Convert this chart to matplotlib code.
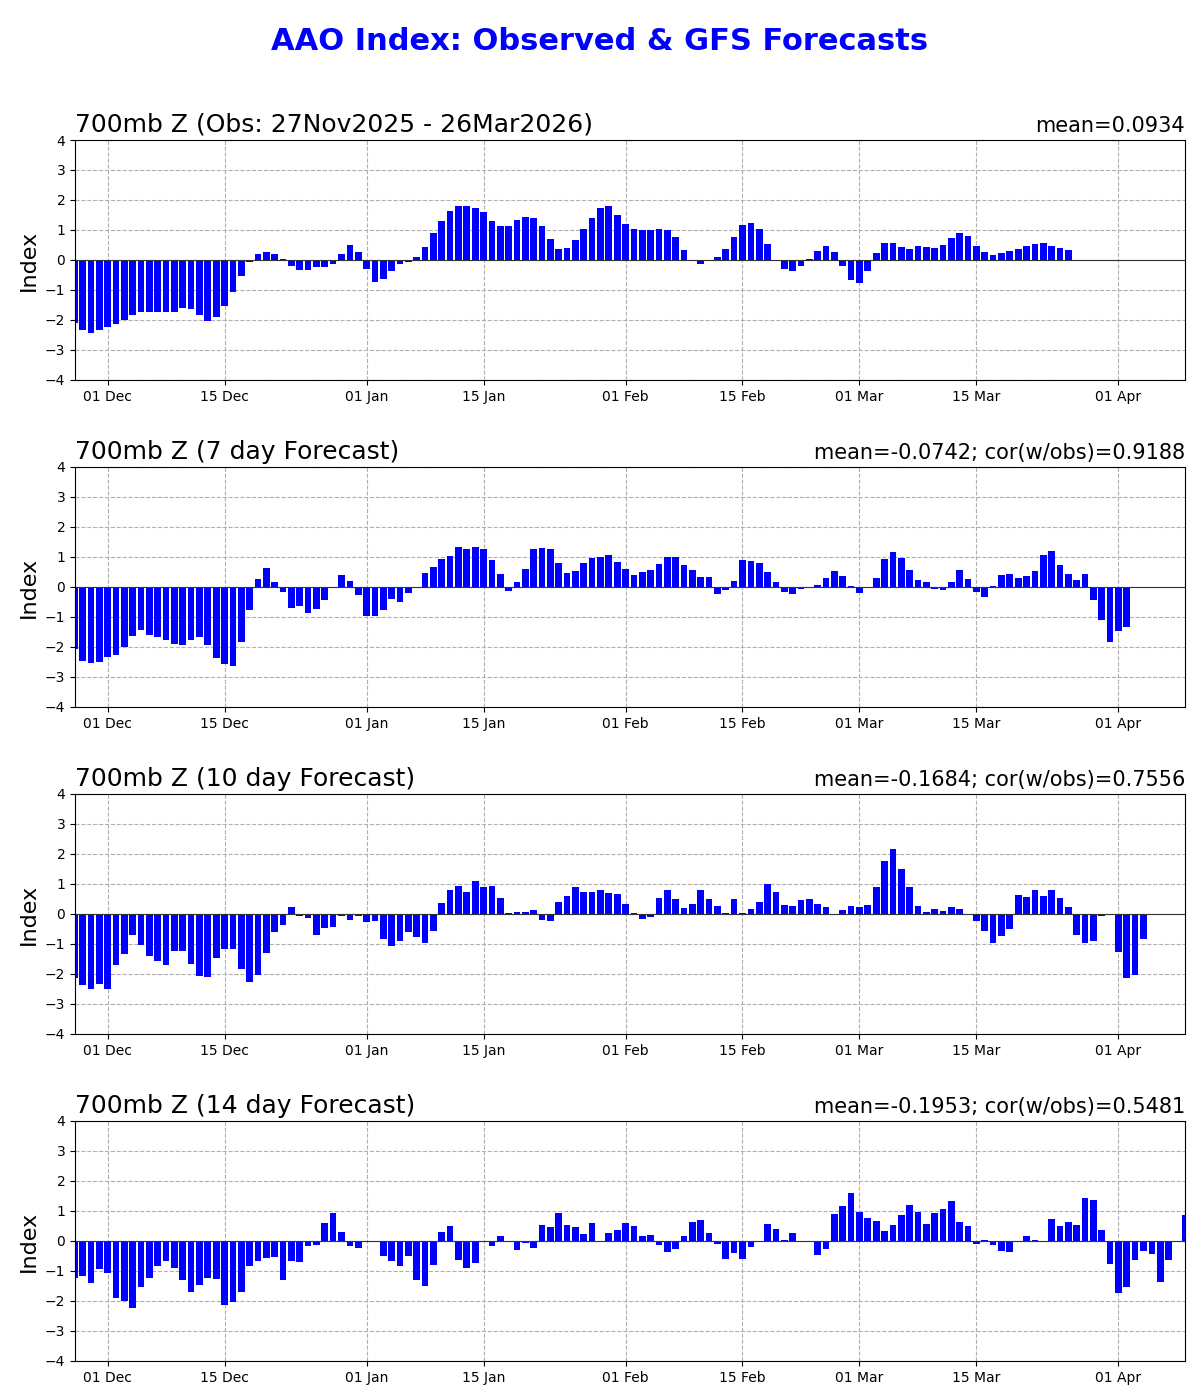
#Importing libraries

import numpy as np
import pandas as pd
import matplotlib
matplotlib.use('Agg')
import matplotlib.pyplot as plt
import matplotlib.dates as mdates

# Daily index values, each series starts on 27 Nov 2025
start_date = '2025-11-27'

obs = [-2.09, -2.33, -2.42, -2.35,
       -2.25, -2.15, -1.99, -1.82, -1.73, -1.73, -1.73, -1.73, -1.73, -1.59, -1.63, -1.82, -2.02, -1.89, -1.53, -1.07,
       -0.54, -0.08, 0.21, 0.27, 0.21, 0.04, -0.21, -0.34, -0.34, -0.24, -0.24, -0.14, 0.21, 0.51, 0.27,
       -0.31, -0.74, -0.64, -0.37, -0.14, -0.08, 0.11, 0.44, 0.90, 1.30, 1.63, 1.79, 1.79, 1.73, 1.59, 1.30,
       1.13, 1.13, 1.33, 1.43, 1.40, 1.13, 0.70, 0.37, 0.41, 0.67, 1.03, 1.40, 1.73, 1.79, 1.49,
       1.20, 1.03, 1.00, 1.00, 1.03, 1.00, 0.77, 0.34, -0.05, -0.12, -0.05, 0.11, 0.37, 0.77, 1.16, 1.23,
       1.03, 0.54, 0.00, -0.31, -0.37, -0.21, 0.04, 0.31, 0.47, 0.27, -0.21, -0.67,
       -0.77, -0.37, 0.24, 0.57, 0.57, 0.44, 0.37, 0.47, 0.44, 0.41, 0.51, 0.74, 0.90, 0.80, 0.47,
       0.27, 0.18, 0.24, 0.31, 0.37, 0.47, 0.54, 0.57, 0.47, 0.41, 0.34]

fc7 = [-2.07, -2.47, -2.54, -2.51,
       -2.34, -2.27, -2.00, -1.64, -1.44, -1.61, -1.67, -1.77, -1.90, -1.93, -1.77, -1.67, -1.93, -2.37, -2.57, -2.63,
       -1.84, -0.78, 0.28, 0.64, 0.17, -0.18, -0.71, -0.64, -0.88, -0.74, -0.44, 0.00, 0.41, 0.21, -0.28,
       -0.98, -0.98, -0.78, -0.41, -0.51, -0.21, 0.00, 0.48, 0.68, 0.94, 1.04, 1.34, 1.28, 1.34, 1.28, 0.91,
       0.44, -0.14, 0.18, 0.61, 1.28, 1.31, 1.28, 0.81, 0.48, 0.54, 0.81, 0.98, 1.01, 1.08, 0.84,
       0.61, 0.41, 0.51, 0.58, 0.78, 1.01, 1.01, 0.74, 0.58, 0.34, 0.34, -0.24, -0.09, 0.21, 0.91, 0.88,
       0.81, 0.51, 0.18, -0.18, -0.24, -0.08, -0.04, 0.08, 0.31, 0.54, 0.38, 0.04,
       -0.21, 0.01, 0.31, 0.94, 1.18, 0.98, 0.58, 0.24, 0.18, -0.08, -0.11, 0.18, 0.58, 0.28, -0.18,
       -0.34, 0.04, 0.41, 0.44, 0.31, 0.38, 0.54, 1.08, 1.21, 0.74, 0.44, 0.24, 0.44, -0.44, -1.11, -1.84,
       -1.48, -1.34]

fc10 = [-2.14, -2.38, -2.51, -2.34,
        -2.51, -1.71, -1.34, -0.71, -1.04, -1.41, -1.58, -1.71, -1.24, -1.24, -1.68, -2.08, -2.11, -1.48, -1.18, -1.18,
        -1.84, -2.28, -2.04, -1.31, -0.61, -0.38, 0.24, -0.08, -0.14, -0.71, -0.48, -0.44, -0.08, -0.21, -0.08,
        -0.28, -0.24, -0.84, -1.08, -0.91, -0.61, -0.78, -0.98, -0.58, 0.38, 0.81, 0.94, 0.74, 1.11, 0.91, 0.94,
        0.54, 0.04, 0.08, 0.08, 0.14, -0.21, -0.24, 0.41, 0.61, 0.91, 0.74, 0.74, 0.81, 0.71, 0.68,
        0.34, 0.04, -0.18, -0.11, 0.54, 0.81, 0.51, 0.21, 0.34, 0.81, 0.51, 0.28, 0.04, 0.51, 0.04, 0.18,
        0.41, 1.01, 0.74, 0.31, 0.28, 0.48, 0.51, 0.34, 0.24, 0.00, 0.14, 0.28,
        0.24, 0.31, 0.91, 1.78, 2.18, 1.51, 0.91, 0.28, 0.08, 0.18, 0.11, 0.24, 0.18, 0.00, -0.24,
        -0.58, -0.98, -0.74, -0.51, 0.64, 0.58, 0.81, 0.61, 0.81, 0.54, 0.24, -0.71, -0.98, -0.91, -0.08, 0.00,
        -1.28, -2.14, -2.04, -0.84, -0.04]

fc14 = [-1.24, -1.18, -1.41, -0.94,
        -1.08, -1.91, -2.01, -2.24, -1.54, -1.24, -0.84, -0.68, -0.91, -1.31, -1.71, -1.48, -1.24, -1.28, -2.14, -2.04,
        -1.71, -0.84, -0.68, -0.58, -0.54, -1.31, -0.68, -0.71, -0.18, -0.14, 0.61, 0.94, 0.31, -0.18, -0.24,
        0.00, 0.00, -0.51, -0.68, -0.84, -0.51, -1.31, -1.51, -0.81, 0.31, 0.51, -0.64, -0.91, -0.74, -0.04, -0.18,
        0.18, 0.00, -0.31, -0.08, -0.24, 0.54, 0.48, 0.94, 0.54, 0.48, 0.24, 0.61, 0.00, 0.28, 0.38,
        0.61, 0.51, 0.18, 0.21, -0.14, -0.38, -0.28, 0.18, 0.64, 0.71, 0.28, -0.11, -0.61, -0.41, -0.61, -0.21,
        -0.01, 0.58, 0.41, 0.04, 0.28, 0.00, -0.04, -0.48, -0.28, 0.91, 1.18, 1.61,
        0.98, 0.78, 0.68, 0.34, 0.54, 0.88, 1.21, 0.98, 0.58, 0.94, 1.08, 1.34, 0.64, 0.51, -0.11,
        0.04, -0.14, -0.34, -0.38, -0.01, 0.18, 0.04, 0.00, 0.74, 0.51, 0.64, 0.54, 1.44, 1.38, 0.38, -0.78,
        -1.74, -1.54, -0.64, -0.34, -0.44, -1.38, -0.64, 0.00, 0.88]

panel_titles = ['700mb Z (Obs: 27Nov2025 - 26Mar2026)', '700mb Z (7 day Forecast)',
                '700mb Z (10 day Forecast)', '700mb Z (14 day Forecast)']
panel_stats = ['mean=0.0934', 'mean=-0.0742; cor(w/obs)=0.9188',
               'mean=-0.1684; cor(w/obs)=0.7556', 'mean=-0.1953; cor(w/obs)=0.5481']
series = [obs, fc7, fc10, fc14]

# Figure with four stacked panels
fig, axes = plt.subplots(4, 1, figsize=(12, 14), dpi=100)
fig.subplots_adjust(left=0.0625, right=0.9875, top=0.9, bottom=0.0279, hspace=0.3625)
fig.suptitle('AAO Index: Observed & GFS Forecasts', color='blue', fontsize=22,
             fontweight='bold', y=0.9707, va='center')

for ax, vals, title, stat in zip(axes, series, panel_titles, panel_stats):
    dates = pd.date_range(start_date, periods=len(vals), freq='D')
    ax.set_axisbelow(True)
    ax.grid(True, linestyle='--', color='#b0b0b0', linewidth=0.8)
    ax.bar(dates, vals, width=0.8, color='blue')
    ax.axhline(0, color='#333333', linewidth=0.8)
    ax.set_ylim(-4, 4)
    ax.set_yticks(np.arange(-4, 5, 1))
    ax.set_xlim(pd.Timestamp('2025-11-27 02:24'), pd.Timestamp('2026-04-08 23:15'))
    ax.xaxis.set_major_locator(mdates.DayLocator(bymonthday=[1, 15]))
    ax.xaxis.set_major_formatter(mdates.DateFormatter('%d %b'))
    ax.tick_params(labelsize=10)
    ax.set_ylabel('Index', fontsize=16)
    ax.set_title(title, loc='left', fontsize=18)
    ax.set_title(stat, loc='right', fontsize=15)

plt.savefig('out.png', dpi=100)
